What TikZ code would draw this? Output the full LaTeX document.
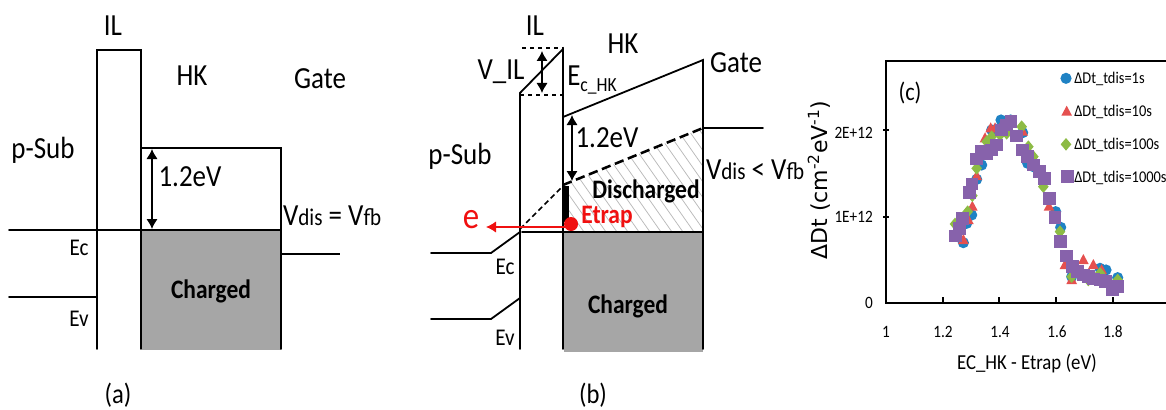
\documentclass[tikz,border=0pt]{standalone}
\usepackage{fontspec}
\setmainfont[FakeStretch=0.88]{Carlito}
\newfontfamily\ylabfont{DejaVu Sans}
\usetikzlibrary{arrows.meta}
\newcommand{\fsz}[1]{\fontsize{#1}{#1}\selectfont}
\definecolor{fillgray}{HTML}{A6A6A6}
\definecolor{hatchgray}{HTML}{B8B8B8}
\definecolor{trapred}{HTML}{F01010}
\definecolor{serA}{HTML}{1F82C4}
\definecolor{serB}{HTML}{E5504F}
\definecolor{serC}{HTML}{8DBB45}
\definecolor{serD}{HTML}{8762AB}
\tikzset{
  band/.style={line width=1.35pt,line cap=round},
  thinband/.style={line width=1.1pt},
  dblarrow/.style={line width=1.05pt,{Latex[length=7.5pt,width=8.5pt]}-{Latex[length=7.5pt,width=8.5pt]}},
  lbl/.style={inner sep=0pt,font=\fsz{23}},
  mid/.style={inner sep=0pt,font=\fsz{18}},
  small/.style={inner sep=0pt,font=\fsz{13}},
  legendtext/.style={inner sep=0pt,anchor=west,font=\fsz{12.3}},
  boldlbl/.style={inner sep=0pt,font=\fsz{20}\bfseries},
  tick/.style={line width=.9pt},
}
\newcommand{\circA}[1]{\fill[serA] #1 circle (4.2pt);}
\newcommand{\triB}[1]{\fill[serB] #1 ++(0,-18) -- ++(16,30) -- ++(-32,0) -- cycle;}
\newcommand{\diaC}[1]{\fill[serC] #1 ++(0,-19) -- ++(16,19) -- ++(-16,19) -- ++(-16,-19) -- cycle;}
\newcommand{\squD}[1]{\fill[serD] #1 ++(-19,-19) rectangle ++(38,38);}
\begin{document}
\begin{tikzpicture}[x=.75pt,y=-.75pt]
\useasboundingbox (0,0) rectangle (1166,410);
% ---------- panel (a)
\fill[fillgray] (142,230) rectangle (281,350);
\draw[band] (97,349) -- (97,50) -- (141,50) -- (141,349);
\draw[band] (9,230) -- (281,230);
\draw[band] (141,148) -- (281,148) -- (281,349);
\draw[band] (9,297) -- (97,297);
\draw[thinband] (281,254) -- (340,254);
\coordinate (a1) at (152,149);
\coordinate (a2) at (152,229);
\draw[dblarrow] (a1) -- (a2);
\node[lbl] (aIL) at (113,26) {IL};
\node[lbl] (aHK) at (192,76) {HK};
\node[lbl] (aGate) at (320,79) {Gate};
\node[lbl] (aSub) at (43,150) {p-Sub};
\node[lbl] (aE) at (190,177) {1.2eV};
\node[lbl] (aV) at (332,216) {V{\fsz{18}dis} = V{\fsz{18}fb}};
\node[mid] (aEc) at (79,248) {Ec};
\node[mid] (aEv) at (79,319) {Ev};
\node[boldlbl] (aCh) at (211,291) {Charged};
\node[mid,font=\fsz{21}] (aCap) at (118,395) {(a)};
% ---------- panel (b)
\begin{scope}
  \clip (563,185) -- (703,128) -- (703,232) -- (563,232) -- cycle;
  \foreach \i in {-2,...,20}
    \draw[hatchgray,line width=.55pt] ({520+\i*11},125) -- ({520+\i*11+75},232);
\end{scope}
\fill[fillgray] (564,232) rectangle (703,352);
\draw[band] (520,349) -- (520,93) -- (563,49) -- (563,349);
\draw[thinband,dashed] (522,48) -- (563,48);
\draw[thinband,dashed] (520,95) -- (563,95);
\coordinate (b1) at (542,51);
\coordinate (b2) at (542,93);
\draw[dblarrow] (b1) -- (b2);
\draw[band] (563,117) -- (703,60) -- (703,349);
\draw[line width=1.9pt,dash pattern=on 7pt off 3.5pt] (563,185) -- (703,128);
\draw[band] (703,128) -- (763,128);
\draw[thinband,dash pattern=on 4pt off 2.5pt] (520,229) -- (563,186);
\draw[band] (431,253) -- (491,253) -- (520,232);
\draw[band] (431,319) -- (491,319) -- (520,298);
\draw[band] (522,232) -- (703,232);
\fill[black] (563.5,186) rectangle (569,222);
\coordinate (b3) at (572,115);
\coordinate (b4) at (572,181);
\draw[dblarrow] (b3) -- (b4);
\coordinate (eStart) at (566,227);
\coordinate (eEnd) at (486,227);
\draw[trapred,line width=.9pt,-{Latex[length=7.5pt,width=8.5pt]}] (eStart) -- (eEnd);
\node[circle,fill=trapred,minimum size=10.5pt,inner sep=0pt] (trap) at (571,224) {};
\node[lbl,text=trapred,font=\fsz{28}] (bElec) at (471,220) {e};
\node[boldlbl,text=trapred] (bTrap) at (607,217) {Etrap};
\node[boldlbl] (bDis) at (646,191) {Discharged};
\node[boldlbl] (bCh) at (628,306) {Charged};
\node[lbl] (bIL) at (535,26) {IL};
\node[lbl] (bHK) at (623,44) {HK};
\node[lbl] (bGate) at (736,63) {Gate};
\node[lbl] (bVIL) at (501,72) {V\_IL};
\node[lbl] (bEc) at (592,80) {E\raisebox{-4pt}{\fsz{15}c\_HK}};
\node[lbl] (bE) at (607,138) {1.2eV};
\node[lbl] (bSub) at (460,156) {p-Sub};
\node[lbl] (bV) at (755,170) {V{\fsz{18}dis} < V{\fsz{18}fb}};
\node[mid] (bEcl) at (505,267) {Ec};
\node[mid] (bEvl) at (505,338) {Ev};
\node[mid,font=\fsz{21}] (bCap) at (593,395) {(b)};
% ---------- panel (c)
\draw[line width=1pt] (1166,61) -- (886,61) -- (886,303) -- (1166,303);
\foreach \yy in {130,217} \draw[tick] (883,\yy) -- (889,\yy);
\foreach \xx in {943,999,1056,1113} \draw[tick] (\xx,297) -- (\xx,303);
\begin{scope}[shift={(800,50)},x=.25pt,y=-.25pt]
  \foreach \p in {(490,578),(500,520),(515,495),(530,388),(545,345),(575,240),(603,210),(632,210),(668,248),(683,340),(700,350),(730,380),(767,485),(782,532),(815,680),(900,655),(918,660),(953,683)} {\circA{\p}}
  \foreach \p in {(490,570),(505,510),(517,470),(530,378),(555,265),(572,235),(585,235),(600,235),(628,240),(668,245),(680,310),(747,470),(795,645),(815,690),(850,630),(880,645),(905,660),(953,690)} {\triB{\p}}
  \foreach \p in {(465,522),(480,510),(503,485),(517,437),(530,355),(560,275),(575,260),(600,255),(620,250),(665,230),(685,290),(700,320),(730,410),(780,545),(815,680),(865,690),(900,670),(953,690)} {\diaC{\p}}
  \foreach \p in {(467,558),(478,535),(488,505),(508,428),(516,402),(530,327),(545,303),(560,310),(575,300),(590,285),(605,240),(620,225),(633,215),(650,258),(668,300),(683,320),(700,345),(718,365),(733,385),(748,445),(765,503),(782,575),(800,618),(817,650),(833,665),(850,675),(866,680),(880,687),(900,690),(917,695),(937,720),(953,710)} {\squD{\p}}
  % legend markers
  \circA{(798,85)}
  \triB{(800,185)}
  \diaC{(798,283)}
  \squD{(803,380)}
\end{scope}
\node[legendtext] (l1) at (1074,79) {ΔDt\_tdis=1s};
\node[legendtext] (l2) at (1074,112) {ΔDt\_tdis=10s};
\node[legendtext] (l3) at (1074,145) {ΔDt\_tdis=100s};
\node[legendtext] (l4) at (1074,178) {ΔDt\_tdis=1000s};
\node[small,anchor=east] (y2) at (873,133) {2E+12};
\node[small,anchor=east] (y1) at (873,217) {1E+12};
\node[small,anchor=east] (y0) at (873,303) {0};
\node[small] (x0) at (886,332) {1};
\node[small] (x1) at (943,332) {1.2};
\node[small] (x2) at (1000,332) {1.4};
\node[small] (x3) at (1057,332) {1.6};
\node[small] (x4) at (1113,332) {1.8};
\node[mid,font=\fsz{16}] (xl) at (1027,363) {EC\_HK - Etrap (eV)};
\node[inner sep=0pt,rotate=90,font=\ylabfont\fsz{16.5}] (yl) at (819,180) {ΔDt (cm\textsuperscript{-2}eV\textsuperscript{-1})};
\node[mid,font=\fsz{19}] (cCap) at (910,93) {(c)};
\end{tikzpicture}
\end{document}
